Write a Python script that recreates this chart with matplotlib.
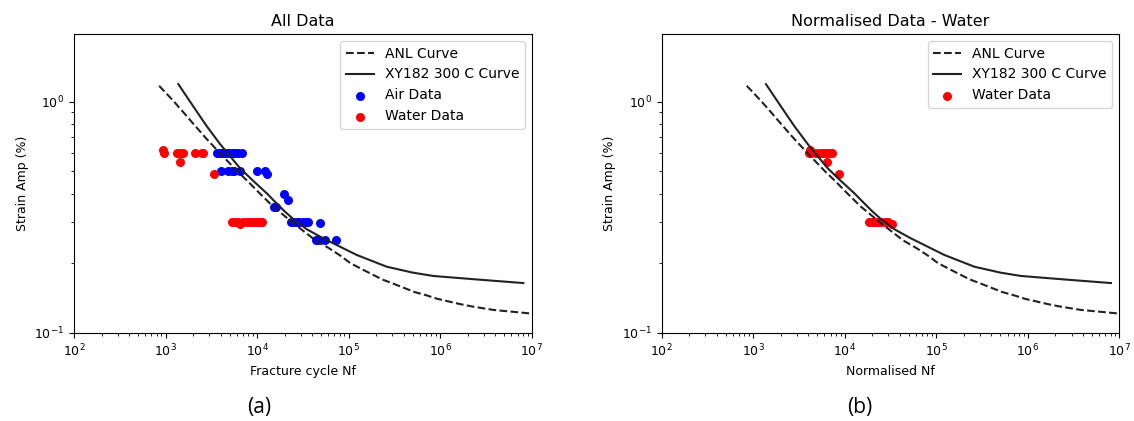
import matplotlib
matplotlib.use("Agg")
import matplotlib.pyplot as plt

# ANL curve, points (Nf, strain %)
anl_nf = [850, 1235, 1600, 2017, 2800, 3898, 6058, 8000, 10720, 15000, 24320, 35000,
          44030, 60000, 80500, 104400, 144600, 232500, 307600, 524000, 713000, 941000,
          1650000, 2200000, 3800000, 10000000]
anl_strain = [1.17, 1.0, 0.89, 0.8, 0.69, 0.6, 0.5, 0.45, 0.4, 0.351, 0.3, 0.268,
              0.25, 0.233, 0.216, 0.2, 0.187, 0.17, 0.163, 0.15, 0.145, 0.14,
              0.133, 0.13, 0.1255, 0.121]

# XY182 300 C curve
xy_nf = [1377, 2000, 2800, 3936, 4730, 6500, 9000, 12740, 15030, 20000, 24900, 35000,
         52800, 122400, 260600, 500000, 841000, 2500000, 8100000]
xy_strain = [1.19, 0.955, 0.785, 0.655, 0.6, 0.515, 0.455, 0.401, 0.375, 0.335, 0.31, 0.28,
             0.256, 0.217, 0.193, 0.182, 0.176, 0.170, 0.164]

# air data (left plot)
air_nf = [3680, 3900, 4150, 4400, 4700, 5000, 5400, 5800, 6200, 6790,
          4040, 4850, 5280, 5600, 6510, 9910, 12200, 12740,
          19700, 22000, 15100, 16100,
          23300, 25000, 27000, 29000, 31500, 34000, 36300, 48700,
          44000, 46500, 55200, 72800]
air_strain = [0.6, 0.6, 0.6, 0.6, 0.6, 0.6, 0.6, 0.6, 0.6, 0.6,
              0.5, 0.5, 0.5, 0.5, 0.5, 0.5, 0.5, 0.484,
              0.397, 0.375, 0.35, 0.35,
              0.3, 0.3, 0.3, 0.3, 0.3, 0.3, 0.3, 0.297,
              0.252, 0.252, 0.252, 0.252]

# water data (left plot)
water_nf = [947, 960, 1325, 1440, 1563, 2097, 2482, 2590, 1440, 3410,
            5280, 5700, 6150, 6500, 7000, 7700, 8300, 9000, 9800, 10500, 11200]
water_strain = [0.62, 0.6, 0.6, 0.6, 0.6, 0.6, 0.6, 0.6, 0.55, 0.484,
                0.3, 0.3, 0.3, 0.295, 0.3, 0.3, 0.3, 0.3, 0.3, 0.3, 0.3]

# normalised water data (right plot)
norm_nf = [4020, 4300, 4900, 5350, 5800, 6300, 6800, 7230, 4150, 6380, 8550,
           18200, 19700, 21200, 22800, 24600, 27500, 29700, 32700, 28800]
norm_strain = [0.6, 0.6, 0.6, 0.6, 0.6, 0.6, 0.6, 0.6, 0.62, 0.55, 0.484,
               0.3, 0.3, 0.3, 0.3, 0.3, 0.3, 0.3, 0.295, 0.302]

fig = plt.figure(figsize=(11.34, 4.21), dpi=100)
ax1 = fig.add_axes([0.0653, 0.2097, 0.4036, 0.7095])
ax2 = fig.add_axes([0.5835, 0.2097, 0.4036, 0.7095])

def setup(ax, title, xlabel):
    ax.plot(anl_nf, anl_strain, linestyle='--', color='#222222', lw=1.5, label='ANL Curve')
    ax.plot(xy_nf, xy_strain, linestyle='-', color='#222222', lw=1.5, label='XY182 300 C Curve')
    ax.set_xscale('log')
    ax.set_yscale('log')
    ax.set_xlim(1e2, 1e7)
    ax.set_ylim(0.1, 1.96)
    ax.set_title(title, fontsize=11.5)
    ax.set_xlabel(xlabel, fontsize=9)
    ax.set_ylabel('Strain Amp (%)', fontsize=9)
    ax.tick_params(labelsize=9)

setup(ax1, 'All Data', 'Fracture cycle Nf')
ax1.scatter(air_nf, air_strain, s=30, color='blue', label='Air Data')
ax1.scatter(water_nf, water_strain, s=30, color='red', label='Water Data')
ax1.legend(loc='upper right', fontsize=10)

setup(ax2, 'Normalised Data - Water', 'Normalised Nf')
ax2.scatter(norm_nf, norm_strain, s=30, color='red', label='Water Data')
ax2.legend(loc='upper right', fontsize=10)

fig.text(0.2284, 0.033, '(a)', ha='center', va='center', fontsize=15, family='Open Sans')
fig.text(0.758, 0.033, '(b)', ha='center', va='center', fontsize=15, family='Open Sans')

fig.savefig('out.png', dpi=100)
